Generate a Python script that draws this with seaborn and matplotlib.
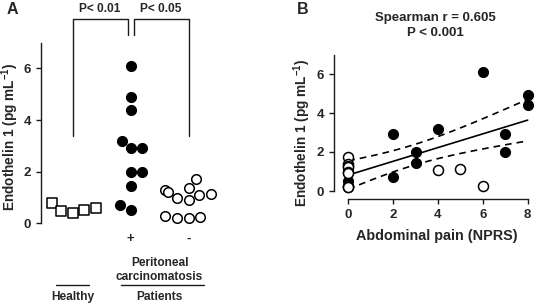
import numpy as np
import pandas as pd
import matplotlib
matplotlib.use("Agg")
import matplotlib.pyplot as plt
import matplotlib.transforms as mtrans
import seaborn as sns

# ---------------- data ----------------
groups = ["Healthy", "+", "-"]
healthy = [0.52, 0.78, 0.39, 0.58, 0.49]
pc_pos = [6.1, 4.9, 4.4, 3.2, 2.9, 2.9, 2.0, 2.0, 1.45, 0.7, 0.5]
pc_neg = [1.72, 1.38, 1.29, 1.22, 1.15, 1.1, 0.97, 0.9, 0.28, 0.26, 0.2, 0.2]
pain_pos = [6, 8, 8, 4, 2, 7, 3, 7, 3, 2, 0]
pain_neg = [0, 0, 0, 0, 5, 4, 0, 0, 0, 6, 0, 0]
y_ticks = [0, 2, 4, 6]
x_ticks_b = [0, 2, 4, 6, 8]
t_crit = 2.0796  # t(0.975, df=21)

sns.set_style("ticks")
plt.rcParams["font.family"] = ["Liberation Sans", "DejaVu Sans"]
plt.rcParams["font.weight"] = "bold"
plt.rcParams["axes.labelweight"] = "bold"
plt.rcParams["mathtext.default"] = "regular"

ink = "#1a1a1a"
fig = plt.figure(figsize=(5.36, 3.07), dpi=100)
W, H = 536.0, 307.0


def fy(px):
    return 1 - px / H


# ---------------- Panel A ----------------
axA = fig.add_axes([40.7 / W, 1 - 233.6 / H, 174 / W, 221.9 / H])
dfA = pd.DataFrame({
    "group": ["Healthy"] * len(healthy) + ["+"] * len(pc_pos) + ["-"] * len(pc_neg),
    "value": healthy + pc_pos + pc_neg,
})
sns.swarmplot(data=dfA[dfA.group == "Healthy"], x="group", y="value", order=groups,
              marker="s", color="white", edgecolor="black", linewidth=1.1, size=7.0, ax=axA)
sns.swarmplot(data=dfA[dfA.group == "+"], x="group", y="value", order=groups,
              marker="o", color="black", edgecolor="black", linewidth=0.8, size=7.2, ax=axA)
sns.swarmplot(data=dfA[dfA.group == "-"], x="group", y="value", order=groups,
              marker="o", color="white", edgecolor="black", linewidth=1.1, size=6.9, ax=axA)
for c in axA.collections:
    c.set_clip_on(False)

axA.set_xlim(-0.55, 2.45)
axA.set_ylim(-0.4, 8.2)
axA.set_yticks(y_ticks)
axA.set_xticks([])
axA.set_xlabel("")
axA.set_ylabel("Endothelin 1 (pg mL$^{-1}$)", fontsize=9.8)
axA.yaxis.set_label_coords(21.5 / W, fy(136.5), transform=fig.transFigure)
for s in ["top", "right", "bottom"]:
    axA.spines[s].set_visible(False)
axA.spines["left"].set_bounds(0, 7)
axA.spines["left"].set_color(ink)
axA.spines["left"].set_linewidth(1.0)
axA.tick_params(axis="y", length=3.5, width=1.0, color=ink, labelsize=9.5, pad=3.5)

# significance brackets
top, inner, low = 7.9, 7.3, 3.4
axA.plot([0, 0, 0.95, 0.95], [low, top, top, inner], color=ink, lw=1.0, clip_on=False)
axA.plot([1.05, 1.05, 2.0, 2.0], [inner, top, top, low], color=ink, lw=1.0, clip_on=False)

blend = mtrans.blended_transform_factory(axA.transData, fig.transFigure)
fs_small = 8.6
axA.text(0.475, fy(9), "P< 0.01", transform=blend, ha="center", va="center", fontsize=8.6, fontweight="bold")
axA.text(1.525, fy(9), "P< 0.05", transform=blend, ha="center", va="center", fontsize=8.6, fontweight="bold")
axA.text(1, fy(239), "+", transform=blend, ha="center", va="center", fontsize=9.5, fontweight="bold")
axA.text(2, fy(239), "-", transform=blend, ha="center", va="center", fontsize=9.5, fontweight="bold")
axA.text(1.5, fy(263), "Peritoneal", transform=blend, ha="center", va="center", fontsize=fs_small, fontweight="bold")
axA.text(1.5, fy(277), "carcinomatosis", transform=blend, ha="center", va="center", fontsize=fs_small, fontweight="bold")
axA.text(1.5, fy(297), "Patients", transform=blend, ha="center", va="center", fontsize=fs_small, fontweight="bold")
axA.text(0, fy(297), "Healthy", transform=blend, ha="center", va="center", fontsize=fs_small, fontweight="bold")
axA.plot([-0.29, 0.28], [fy(285), fy(285)], transform=blend, color=ink, lw=1.0, clip_on=False)
axA.plot([0.83, 2.26], [fy(285), fy(285)], transform=blend, color=ink, lw=1.0, clip_on=False)

fig.text(7 / W, fy(10), "A", ha="left", va="center", fontsize=11.5, fontweight="bold")
fig.text(297 / W, fy(10), "B", ha="left", va="center", fontsize=11.5, fontweight="bold")

# ---------------- Panel B ----------------
axB = fig.add_axes([340.45 / W, 1 - 196.85 / H, (535.5 - 340.45) / W, (196.85 - 50.6) / H])
dfB = pd.DataFrame({
    "pain": pain_pos + pain_neg,
    "et1": pc_pos + pc_neg,
    "status": ["+"] * len(pc_pos) + ["-"] * len(pc_neg),
})

X = dfB["pain"].to_numpy(float)
Y = dfB["et1"].to_numpy(float)
n = len(X)
b, a = np.polyfit(X, Y, 1)
resid = Y - (a + b * X)
s_err = np.sqrt(np.sum(resid ** 2) / (n - 2))
sxx = np.sum((X - X.mean()) ** 2)
xx = np.linspace(0, 8, 100)
fit = a + b * xx
half = t_crit * s_err * np.sqrt(1 / n + (xx - X.mean()) ** 2 / sxx)

sns.lineplot(x=xx, y=fit, color="black", lw=1.2, ax=axB)
sns.lineplot(x=xx, y=fit + half, color="black", lw=1.2, ax=axB, linestyle=(0, (4, 3)))
sns.lineplot(x=xx, y=fit - half, color="black", lw=1.2, ax=axB, linestyle=(0, (4, 3)))

sns.scatterplot(data=dfB[dfB.status == "+"], x="pain", y="et1", color="black",
                edgecolor="black", linewidth=0.8, s=52, ax=axB, zorder=3)
sns.scatterplot(data=dfB[dfB.status == "-"], x="pain", y="et1", color="white",
                edgecolor="black", linewidth=1.1, s=52, ax=axB, zorder=4)
for c in axB.collections:
    c.set_clip_on(False)

axB.set_xlim(-0.35, 8.35)
axB.set_ylim(-0.3, 7.2)
axB.set_xticks(x_ticks_b)
axB.set_yticks(y_ticks)
for s in ["top", "right"]:
    axB.spines[s].set_visible(False)
axB.spines["left"].set_position(("outward", 6.45 * 72 / 100))
axB.spines["bottom"].set_position(("outward", 2.15 * 72 / 100))
axB.spines["left"].set_bounds(0, 7)
axB.spines["bottom"].set_bounds(0, 8)
for s in ["left", "bottom"]:
    axB.spines[s].set_color(ink)
    axB.spines[s].set_linewidth(1.0)
axB.tick_params(axis="both", length=3.5, width=1.0, color=ink, labelsize=9.5, pad=3.5)
axB.set_ylabel("Endothelin 1 (pg mL$^{-1}$)", fontsize=9.8)
axB.yaxis.set_label_coords(313 / W, fy(132.5), transform=fig.transFigure)
axB.set_xlabel("Abdominal pain (NPRS)", fontsize=10.4)
axB.xaxis.set_label_coords(437 / W, fy(229), transform=fig.transFigure)

fig.text(435 / W, fy(18), "Spearman r = 0.605", ha="center", va="center", fontsize=9.5, fontweight="bold")
fig.text(435 / W, fy(33), "P < 0.001", ha="center", va="center", fontsize=9.5, fontweight="bold")

fig.savefig("out.png", dpi=100)
